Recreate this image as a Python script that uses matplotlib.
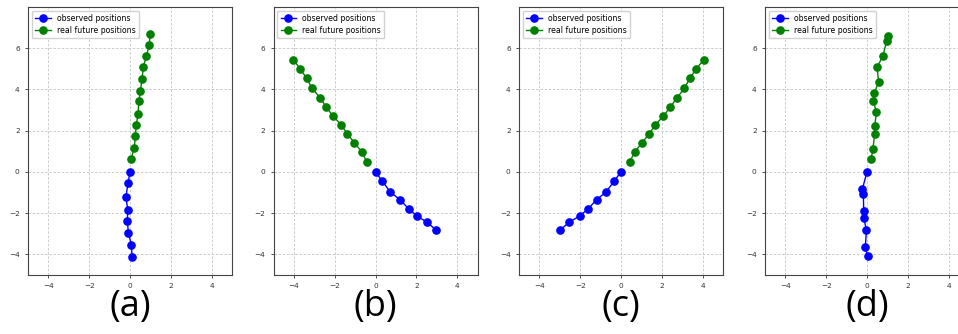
import matplotlib.pyplot as plt

# observed (blue) and real future (green) trajectories for each panel
obs_a_x = [0.10, 0.07, -0.08, -0.13, -0.11, -0.20, -0.10, 0.0]
obs_a_y = [-4.12, -3.55, -2.94, -2.39, -1.84, -1.21, -0.56, 0.0]
fut_a_x = [0.05, 0.21, 0.26, 0.31, 0.39, 0.44, 0.51, 0.59, 0.65, 0.80, 0.95, 0.98]
fut_a_y = [0.61, 1.18, 1.73, 2.28, 2.82, 3.42, 3.94, 4.49, 5.07, 5.63, 6.17, 6.70]

obs_b_x = [2.99, 2.54, 2.02, 1.63, 1.20, 0.72, 0.33, 0.0]
obs_b_y = [-2.84, -2.45, -2.13, -1.79, -1.35, -0.97, -0.44, 0.0]
fut_b_x = [-0.42, -0.67, -1.04, -1.38, -1.69, -2.08, -2.42, -2.73, -3.11, -3.38, -3.69, -4.03]
fut_b_y = [0.47, 0.97, 1.42, 1.85, 2.29, 2.71, 3.15, 3.61, 4.06, 4.55, 5.00, 5.44]

obs_c_x = [-2.98, -2.55, -2.02, -1.61, -1.20, -0.73, -0.33, 0.0]
obs_c_y = [-2.82, -2.45, -2.13, -1.79, -1.35, -0.97, -0.44, 0.0]
fut_c_x = [0.42, 0.67, 1.04, 1.38, 1.69, 2.08, 2.42, 2.75, 3.11, 3.38, 3.69, 4.05]
fut_c_y = [0.47, 0.97, 1.42, 1.85, 2.29, 2.71, 3.15, 3.60, 4.06, 4.55, 5.00, 5.44]

obs_d_x = [0.03, -0.08, -0.03, -0.16, -0.16, -0.18, -0.23, 0.0]
obs_d_y = [-4.07, -3.66, -2.81, -2.23, -1.90, -1.08, -0.84, 0.0]
fut_d_x = [0.20, 0.29, 0.38, 0.38, 0.46, 0.31, 0.36, 0.57, 0.49, 0.77, 0.96, 1.01]
fut_d_y = [0.61, 1.13, 1.85, 2.23, 2.90, 3.45, 3.82, 4.37, 5.08, 5.60, 6.33, 6.60]

panels = [
    ("(a)", obs_a_x, obs_a_y, fut_a_x, fut_a_y),
    ("(b)", obs_b_x, obs_b_y, fut_b_x, fut_b_y),
    ("(c)", obs_c_x, obs_c_y, fut_c_x, fut_c_y),
    ("(d)", obs_d_x, obs_d_y, fut_d_x, fut_d_y),
]

W, H = 958, 334
fig = plt.figure(figsize=(W / 100, H / 100), dpi=100)

lefts = [28, 273.5, 519, 765]
ax_w, ax_h, ax_bottom = 204, 268, 59

for left, (label, ox, oy, fx, fy) in zip(lefts, panels):
    ax = fig.add_axes([left / W, ax_bottom / H, ax_w / W, ax_h / H])
    ax.plot(ox, oy, '-o', color='blue', markersize=5.2, linewidth=1, label='observed positions')
    ax.plot(fx, fy, '-o', color='green', markersize=5.2, linewidth=1, label='real future positions')
    ax.set_xlim(-5, 5)
    ax.set_ylim(-5, 8)
    ax.set_xticks([-4, -2, 0, 2, 4])
    ax.set_yticks([-4, -2, 0, 2, 4, 6])
    ax.grid(True, linestyle=(0, (3, 2)), color='#c4c4c4', linewidth=0.6)
    ax.tick_params(labelsize=5.3, colors='#333333', length=2.5, width=0.6)
    for s in ax.spines.values():
        s.set_color('#444444')
        s.set_linewidth(0.8)
    ax.legend(loc='upper left', fontsize=5.6, framealpha=0.9, borderpad=0.4,
              handlelength=2, labelspacing=0.4)
    # big panel label under each axes
    fig.text((left + ax_w / 2) / W, 1 - 307 / H, label, ha='center', va='center',
             fontsize=26, family='Open Sans', color='black')

fig.savefig('out.png', dpi=100)
